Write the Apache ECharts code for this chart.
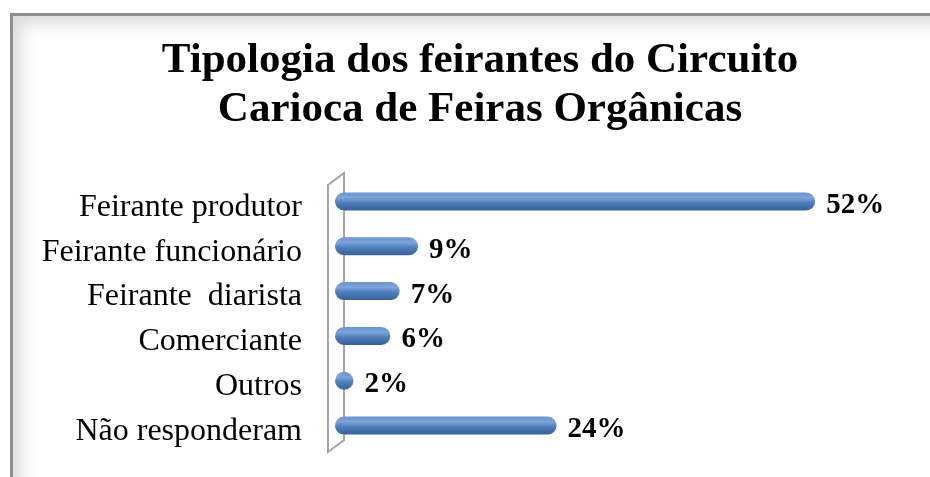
<!DOCTYPE html>
<html>
<head>
<meta charset="utf-8">
<script src="https://cdn.jsdelivr.net/npm/echarts@6/dist/echarts.min.js"></script>
<style>
  html, body { margin: 0; padding: 0; background: #fff; }
  #wrap { position: relative; width: 930px; height: 477px; overflow: hidden; }
  #frame {
    position: absolute; left: 10px; top: 13px; width: 960px; height: 500px;
    border-top: 3px solid #8e8e8e; border-left: 3px solid #8e8e8e;
    box-shadow: inset 14px 14px 16px -6px rgba(0, 0, 0, 0.14);
  }
  #chart { position: absolute; left: 0; top: 0; width: 930px; height: 477px; }
</style>
</head>
<body>
<div id="wrap">
  <div id="frame"></div>
  <div id="chart"></div>
</div>
<script>
// dados
var categorias = ['Feirante produtor', 'Feirante funcionário', 'Feirante  diarista', 'Comerciante', 'Outros', 'Não responderam']
var percentuais = [52, 9, 7, 6, 2, 24]
var titulo = 'Tipologia dos feirantes do Circuito\nCarioca de Feiras Orgânicas'

var serif = '"Liberation Serif", "Times New Roman", serif'

// posição da área das barras
var gridLeft = 335
var gridTop = 179
var gridHeight = 269

var myChart = echarts.init(document.getElementById('chart'))

var option = {
  backgroundColor: 'transparent',
  animation: false,
  grid: [
    { left: gridLeft, top: gridTop, width: 554, height: gridHeight },
    // rótulos do eixo um pouco abaixo das barras, como no original
    { left: gridLeft, top: gridTop + 6, width: 554, height: gridHeight }
  ],
  xAxis: [
    { type: 'value', gridIndex: 0, min: 0, max: 60, show: false },
    { type: 'value', gridIndex: 1, min: 0, max: 60, show: false }
  ],
  yAxis: [
    {
      type: 'category', gridIndex: 0, data: categorias, inverse: true,
      axisLine: { show: false }, axisTick: { show: false }, axisLabel: { show: false }
    },
    {
      type: 'category', gridIndex: 1, data: categorias, inverse: true,
      axisLine: { show: false }, axisTick: { show: false },
      axisLabel: { margin: 33, color: '#000', fontFamily: serif, fontSize: 32 }
    }
  ],
  graphic: [
    {
      type: 'text', x: 480, y: 36, z: 10,
      style: {
        text: titulo, align: 'center', verticalAlign: 'top',
        font: 'bold 43px ' + serif, lineHeight: 49, fill: '#000'
      }
    },
    {
      // parede do eixo vertical
      type: 'polygon', z: 0,
      shape: { points: [[328, 185], [344, 173], [344, 440], [328, 452]] },
      style: { fill: '#fff', stroke: '#a6a6a6', lineWidth: 2 }
    }
  ],
  series: [{
    type: 'bar',
    xAxisIndex: 0,
    yAxisIndex: 0,
    data: percentuais,
    barWidth: 18,
    z: 5,
    itemStyle: {
      borderRadius: 9,
      color: new echarts.graphic.LinearGradient(0, 0, 0, 1, [
        { offset: 0, color: '#6a95cf' },
        { offset: 0.3, color: '#7ea4da' },
        { offset: 0.55, color: '#4f81bd' },
        { offset: 1, color: '#36609a' }
      ])
    },
    label: {
      show: true,
      position: 'right',
      distance: 11,
      offset: [0, 4],
      formatter: '{c}%',
      color: '#000',
      fontFamily: serif,
      fontWeight: 'bold',
      fontSize: 29
    }
  }]
}

myChart.setOption(option)
</script>
</body>
</html>
